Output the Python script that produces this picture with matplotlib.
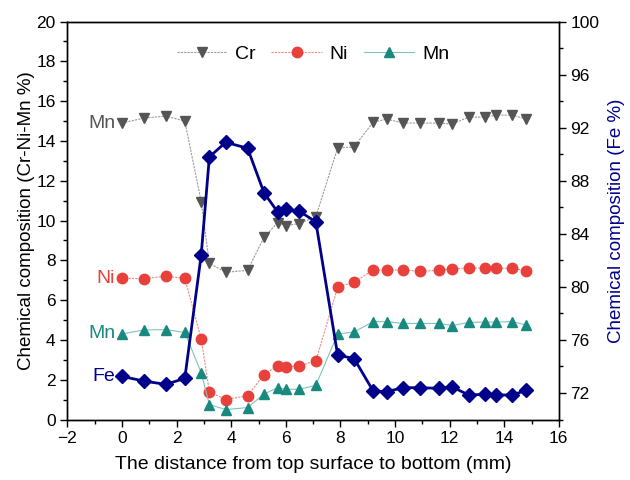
# Cr-Ni-Mn-Fe composition profile through the layer
import matplotlib.pyplot as plt
from matplotlib.ticker import MultipleLocator

plt.rcParams['font.family'] = ['Liberation Sans', 'DejaVu Sans']

distance = [0, 0.8, 1.6, 2.3, 2.9, 3.2, 3.8, 4.6, 5.2, 5.7, 6.0, 6.5, 7.1,
            7.9, 8.5, 9.2, 9.7, 10.3, 10.9, 11.6, 12.1, 12.7, 13.3, 13.7, 14.3, 14.8]

cr = [14.9, 15.15, 15.25, 15.0, 10.95, 7.85, 7.4, 7.5, 9.15, 9.9, 9.75, 9.85, 10.2,
      13.65, 13.7, 14.95, 15.1, 14.9, 14.9, 14.9, 14.85, 15.2, 15.2, 15.3, 15.3, 15.1]

ni = [7.1, 7.08, 7.2, 7.1, 4.05, 1.4, 1.0, 1.2, 2.25, 2.7, 2.65, 2.7, 2.95,
      6.65, 6.9, 7.52, 7.5, 7.52, 7.45, 7.5, 7.57, 7.62, 7.6, 7.6, 7.6, 7.48]

mn = [4.3, 4.5, 4.52, 4.38, 2.35, 0.75, 0.5, 0.6, 1.28, 1.6, 1.52, 1.52, 1.72,
      4.3, 4.4, 4.92, 4.92, 4.83, 4.83, 4.83, 4.72, 4.88, 4.9, 4.9, 4.92, 4.75]

fe = [73.25, 72.9, 72.65, 73.1, 82.4, 89.8, 90.9, 90.45, 87.1, 85.65, 85.85, 85.7, 84.9,
      74.85, 74.6, 72.15, 72.1, 72.4, 72.4, 72.35, 72.45, 71.85, 71.9, 71.85, 71.85, 72.2]

gray = '#555555'
red = '#e8413c'
teal = '#19897f'
navy = '#00008b'

fig = plt.figure(figsize=(6.3, 4.8), dpi=100)
ax = fig.add_axes([0.107, 0.126, 0.780, 0.829])
ax2 = ax.twinx()

ax.plot(distance, cr, color='#9a9a9a', lw=0.8, ls=(0, (2, 1)), marker='v', ms=7.5,
        mfc=gray, mec=gray, label='Cr')
ax.plot(distance, ni, color='#f08a86', lw=0.8, ls=(0, (2, 1)), marker='o', ms=7.5,
        mfc=red, mec=red, label='Ni')
ax.plot(distance, mn, color='#7fc3bd', lw=0.8, marker='^', ms=7.5,
        mfc=teal, mec=teal, label='Mn')
ax2.plot(distance, fe, color=navy, lw=2, marker='D', ms=7, mfc=navy, mec=navy)

ax.set_xlim(-2, 16)
ax.set_ylim(0, 20)
ax2.set_ylim(70, 100)

ax.xaxis.set_major_locator(MultipleLocator(2))
ax.xaxis.set_minor_locator(MultipleLocator(1))
ax.yaxis.set_major_locator(MultipleLocator(2))
ax.yaxis.set_minor_locator(MultipleLocator(1))
ax2.set_yticks([72, 76, 80, 84, 88, 92, 96, 100])
ax2.yaxis.set_minor_locator(MultipleLocator(2))

for a in (ax, ax2):
    a.tick_params(which='major', direction='out', length=5, width=1, labelsize=12.5)
    a.tick_params(which='minor', direction='out', length=3, width=1)
    for s in a.spines.values():
        s.set_linewidth(1)

ax.set_xlabel('The distance from top surface to bottom (mm)', fontsize=14, labelpad=7)
ax.set_ylabel('Chemical composition (Cr-Ni-Mn %)', fontsize=13.5, labelpad=1)
ax2.set_ylabel('Chemical composition (Fe %)', fontsize=13.5, color=navy, labelpad=6)

ax.text(-0.25, cr[0], 'Mn', color=gray, fontsize=14, ha='right', va='center')
ax.text(-0.25, ni[0], 'Ni', color=red, fontsize=14, ha='right', va='center')
ax.text(-0.25, mn[0], 'Mn', color=teal, fontsize=14, ha='right', va='center')
ax2.text(-0.25, fe[0], 'Fe', color=navy, fontsize=14, ha='right', va='center')

ax.legend(loc='upper center', bbox_to_anchor=(0.5, 0.985), ncol=3, frameon=False,
          fontsize=14, handlelength=2.6, columnspacing=0.8, handletextpad=0.4)

fig.savefig('out.png', dpi=100)
